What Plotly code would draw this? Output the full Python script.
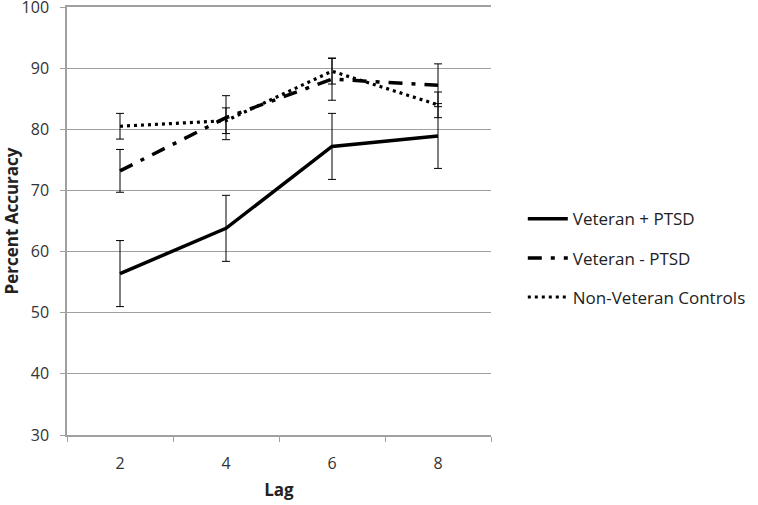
import plotly.graph_objects as go

lags = [2, 4, 6, 8]
vet_ptsd = [56.4, 63.8, 77.2, 78.9]
vet_ptsd_err = [5.4, 5.4, 5.4, 5.3]
vet_noptsd = [73.2, 81.9, 88.2, 87.2]
vet_noptsd_err = [3.5, 3.6, 3.45, 3.5]
controls = [80.5, 81.4, 89.5, 84.0]
controls_err = [2.1, 2.1, 2.1, 2.1]
names = ["Veteran + PTSD", "Veteran - PTSD", "Non-Veteran Controls"]

FONT = "Open Sans"

fig = go.Figure()
series = [
    (vet_ptsd, vet_ptsd_err, names[0], "solid", 3.5),
    (vet_noptsd, vet_noptsd_err, names[1], "14px,9px,4px,9px", 3.5),
    (controls, controls_err, names[2], "3px,4px", 3.2),
]
for i, (vals, err, name, dash, w) in enumerate(series):
    fig.add_trace(go.Scatter(
        x=lags, y=vals, name=name, mode="lines",
        line=dict(color="black", width=w, dash=dash),
        error_y=dict(type="data", array=err, visible=True,
                     color="black", thickness=1, width=4),
        legendgroup=f"g{i}",
    ))

fig.update_layout(
    width=758, height=505,
    margin=dict(l=67, r=267, t=7, b=70),
    paper_bgcolor="white", plot_bgcolor="white",
    font=dict(family=FONT, size=14, color="#404040"),
    showlegend=True,
    legend=dict(x=1.075, xanchor="left", y=0.413, yanchor="middle",
                font=dict(family=FONT, size=17, color="#222"),
                tracegroupgap=14, itemwidth=40,
                bgcolor="rgba(0,0,0,0)"),
    xaxis=dict(
        range=[1, 9], tickvals=lags, ticktext=[str(v) for v in lags],
        showgrid=False, zeroline=False, showline=True, automargin=False,
        linecolor="#a0a0a0", linewidth=1.5, ticks="", mirror=True,
        minor=dict(tickvals=[1, 3, 5, 7, 9], ticks="outside", ticklen=5,
                   tickcolor="#a0a0a0", showgrid=False),
        ticklabelstandoff=13,
        tickfont=dict(size=16, color="#333"),
        title=dict(text="<b>Lag</b>", font=dict(size=17, color="#222"), standoff=11),
    ),
    yaxis=dict(
        range=[30, 100], tickvals=[30, 40, 50, 60, 70, 80, 90, 100],
        showgrid=True, gridcolor="#a0a0a0", gridwidth=1.2, automargin=False,
        zeroline=False, showline=True, linecolor="#a0a0a0", linewidth=1.5,
        ticks="outside", ticklen=5, tickcolor="#a0a0a0",
        ticklabelstandoff=8, ticklabeloverflow="allow",
        tickfont=dict(size=16, color="#333"),
        title=dict(text="<b>Percent Accuracy</b>", font=dict(size=17, color="#222"), standoff=8),
    ),
)

fig.write_html("out.html", config={"displayModeBar": False},
               post_script="document.body.style.margin='0';")
